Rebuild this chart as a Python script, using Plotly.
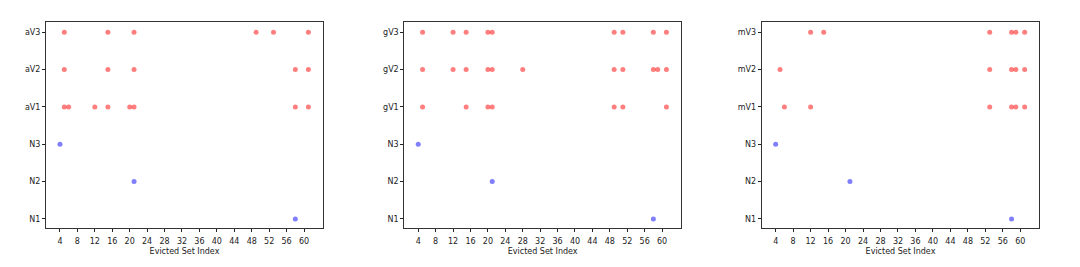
import plotly.graph_objects as go

W, H = 1080, 267

row_labels = {
    "a": ["N1", "N2", "N3", "aV1", "aV2", "aV3"],
    "g": ["N1", "N2", "N3", "gV1", "gV2", "gV3"],
    "m": ["N1", "N2", "N3", "mV1", "mV2", "mV3"],
}

# evicted set indices per row (bottom to top)
a_N1 = [58]
a_N2 = [21]
a_N3 = [4]
a_V1 = [5, 6, 12, 15, 20, 21, 58, 61]
a_V2 = [5, 15, 21, 58, 61]
a_V3 = [5, 15, 21, 49, 53, 61]

g_N1 = [58]
g_N2 = [21]
g_N3 = [4]
g_V1 = [5, 15, 20, 21, 49, 51, 61]
g_V2 = [5, 12, 15, 20, 21, 28, 49, 51, 58, 59, 61]
g_V3 = [5, 12, 15, 20, 21, 49, 51, 58, 61]

m_N1 = [58]
m_N2 = [21]
m_N3 = [4]
m_V1 = [6, 12, 53, 58, 59, 61]
m_V2 = [5, 53, 58, 59, 61]
m_V3 = [12, 15, 53, 58, 59, 61]

panels = [
    ("a", [a_N1, a_N2, a_N3, a_V1, a_V2, a_V3]),
    ("g", [g_N1, g_N2, g_N3, g_V1, g_V2, g_V3]),
    ("m", [m_N1, m_N2, m_N3, m_V1, m_V2, m_V3]),
]

x_ticks = list(range(4, 61, 4))

# pixel layout of each axes box
px_x = [(46, 323), (404.3, 681), (761.7, 1039.3)]
px_top, px_bot = 21.7, 228.3

RED = "rgba(255,0,0,0.5)"
BLUE = "rgba(0,0,255,0.5)"
FONT = "DejaVu Sans"

fig = go.Figure()
layout = dict(
    width=W, height=H, margin=dict(l=0, r=0, t=0, b=0),
    paper_bgcolor="white", plot_bgcolor="white", showlegend=False,
    font=dict(family=FONT, size=8, color="#222"),
)

for i, (key, rows) in enumerate(panels):
    n = "" if i == 0 else str(i + 1)
    xa, ya = "x" + n, "y" + n
    for r, xs in enumerate(rows):
        fig.add_trace(go.Scatter(
            x=xs, y=[r] * len(xs), mode="markers", xaxis=xa, yaxis=ya,
            marker=dict(size=5, color=BLUE if r < 3 else RED, line=dict(width=0)),
            hoverinfo="x+y",
        ))
    x0, x1 = px_x[i]
    layout["xaxis" + n] = dict(
        domain=[x0 / W, x1 / W], anchor=ya, range=[0.8, 64.35],
        tickvals=x_ticks, ticks="outside", ticklen=3, tickwidth=1, tickcolor="#222",
        ticklabelstandoff=2,
        showgrid=False, zeroline=False, showline=True, linecolor="#333", linewidth=1,
        mirror=True, tickfont=dict(size=8, family=FONT, color="#222"),
        title=dict(text="Evicted Set Index", font=dict(size=8, family=FONT, color="#222"), standoff=3),
    )
    layout["yaxis" + n] = dict(
        domain=[1 - px_bot / H, 1 - px_top / H], anchor=xa, range=[-0.25, 5.28],
        tickvals=list(range(6)), ticktext=row_labels[key],
        ticks="outside", ticklen=3, tickwidth=1, tickcolor="#222",
        showgrid=False, zeroline=False, showline=True, linecolor="#333", linewidth=1,
        mirror=True, tickfont=dict(size=8, family=FONT, color="#222"),
    )

fig.update_layout(**layout)
fig.write_html("out.html")
